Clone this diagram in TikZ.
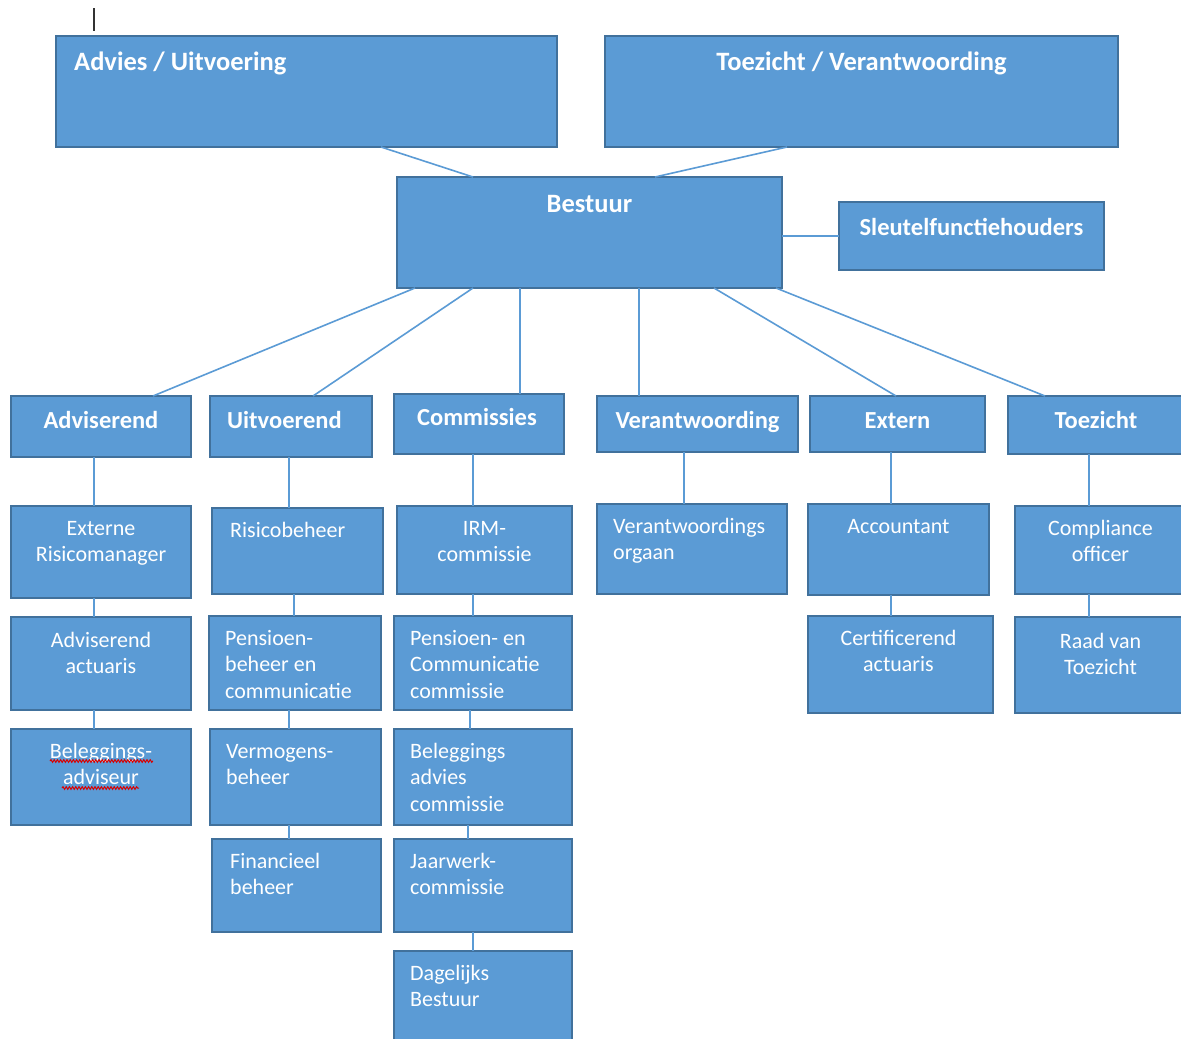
\documentclass[tikz,border=0pt]{standalone}
\usepackage{fontspec}
\setmainfont{Carlito}
\usetikzlibrary{calc,decorations.pathmorphing}
\definecolor{boxfill}{HTML}{5B9BD5}
\definecolor{boxline}{HTML}{41719C}
\definecolor{connblue}{HTML}{5B9BD5}
\definecolor{cursorgray}{HTML}{333333}
\newcommand\mkbox[5]{\node[orgbox, anchor=north west, minimum width={#4pt-#2pt}, minimum height={#5pt-#3pt}] (#1) at (#2,#3) {};}
\tikzset{
  orgbox/.style={draw=boxline, fill=boxfill, line width=1.3pt, inner sep=0pt, outer sep=0pt},
  conn/.style={draw=connblue, line width=1.6pt},
  hdbig/.style={text=white, font=\bfseries\fontsize{26.5pt}{31pt}\selectfont, inner sep=0pt},
  hd/.style={text=white, font=\bfseries\fontsize{24.5pt}{29pt}\selectfont, inner sep=0pt},
  tx/.style={text=white, font=\fontsize{22pt}{26.5pt}\selectfont, inner sep=0pt, align=center},
  txl/.style={tx, align=left},
  squig/.style={draw=red!85!black, line width=1pt, decorate, decoration={snake, amplitude=1.3pt, segment length=3.2pt}},
  cursorline/.style={draw=cursorgray, line width=1.6pt}
}
\begin{document}
\begin{tikzpicture}[x=1pt,y=-1pt]
\useasboundingbox (0,0) rectangle (1181,1039);
\fill[white] (0,0) rectangle (1181,1039);
\draw[cursorline] (94,8) -- (94,31);
% boxes
\mkbox{adv}{56}{36}{557}{147}
\mkbox{toe}{605}{36}{1118}{147}
\mkbox{best}{397}{177}{782}{288}
\mkbox{sleu}{839}{202}{1104}{270}
\mkbox{a2}{11}{396}{191}{457}
\mkbox{u2}{210}{396}{372}{457}
\mkbox{c2}{394}{394}{564}{454}
\mkbox{v2}{597}{396}{798}{452}
\mkbox{e2}{810}{396}{985}{452}
\mkbox{t2}{1008}{396}{1186}{454}
\mkbox{a3}{11}{506}{191}{598}
\mkbox{u3}{212}{508}{383}{594}
\mkbox{c3}{397}{506}{572}{594}
\mkbox{v3}{597}{504}{787}{594}
\mkbox{e3}{808}{504}{989}{595}
\mkbox{t3}{1015}{506}{1186}{594}
\mkbox{a4}{11}{617}{191}{710}
\mkbox{u4}{209}{616}{381}{710}
\mkbox{c4}{394}{616}{572}{710}
\mkbox{e4}{808}{616}{993}{713}
\mkbox{t4}{1015}{617}{1186}{713}
\mkbox{a5}{11}{729}{191}{825}
\mkbox{u5}{210}{729}{381}{825}
\mkbox{c5}{394}{729}{572}{825}
\mkbox{u6}{212}{839}{381}{932}
\mkbox{c6}{394}{839}{572}{932}
\mkbox{c7}{394}{951}{572}{1046}
% connectors
\draw[conn] ([xshift=325pt]adv.south west) -- ([xshift=76pt]best.north west);
\draw[conn] ([xshift=182pt]toe.south west) -- ([xshift=258pt]best.north west);
\draw[conn] (best.east |- sleu.west) -- (sleu.west);
\draw[conn] ([xshift=18pt]best.south west) -- ([xshift=142pt]a2.north west);
\draw[conn] ([xshift=76pt]best.south west) -- ([xshift=103pt]u2.north west);
\draw[conn] ([xshift=123pt]best.south west) -- ([xshift=126pt]c2.north west);
\draw[conn] ([xshift=242pt]best.south west) -- ([xshift=42pt]v2.north west);
\draw[conn] ([xshift=317pt]best.south west) -- ([xshift=86pt]e2.north west);
\draw[conn] ([xshift=379pt]best.south west) -- ([xshift=37pt]t2.north west);
\draw[conn] ([xshift=83pt]a2.south west) -- ([xshift=83pt]a3.north west);
\draw[conn] ([xshift=83pt]a3.south west) -- ([xshift=83pt]a4.north west);
\draw[conn] ([xshift=83pt]a4.south west) -- ([xshift=83pt]a5.north west);
\draw[conn] ([xshift=79pt]u2.south west) -- ([xshift=77pt]u3.north west);
\draw[conn] ([xshift=82pt]u3.south west) -- ([xshift=85pt]u4.north west);
\draw[conn] ([xshift=80pt]u4.south west) -- ([xshift=79pt]u5.north west);
\draw[conn] ([xshift=79pt]u5.south west) -- ([xshift=77pt]u6.north west);
\draw[conn] ([xshift=79pt]c2.south west) -- ([xshift=76pt]c3.north west);
\draw[conn] ([xshift=76pt]c3.south west) -- ([xshift=79pt]c4.north west);
\draw[conn] ([xshift=76pt]c4.south west) -- ([xshift=76pt]c5.north west);
\draw[conn] ([xshift=74pt]c5.south west) -- ([xshift=74pt]c6.north west);
\draw[conn] ([xshift=79pt]c6.south west) -- ([xshift=79pt]c7.north west);
\draw[conn] ([xshift=87pt]v2.south west) -- ([xshift=87pt]v3.north west);
\draw[conn] ([xshift=81pt]e2.south west) -- ([xshift=83pt]e3.north west);
\draw[conn] ([xshift=83pt]e3.south west) -- ([xshift=83pt]e4.north west);
\draw[conn] ([xshift=81pt]t2.south west) -- ([xshift=74pt]t3.north west);
\draw[conn] ([xshift=74pt]t3.south west) -- ([xshift=74pt]t4.north west);
% headings
\node[hdbig, anchor=base west] (tadv) at ([xshift=18pt,yshift=-34.5pt]adv.north west) {Advies / Uitvoering};
\node[hdbig, anchor=base] (ttoe) at ([yshift=-34.5pt]toe.north) {Toezicht / Verantwoording};
\node[hdbig, anchor=base] (tbest) at ([yshift=-35.5pt]best.north) {Bestuur};
\node[hd, anchor=base] (tsleu) at ([yshift=-33pt]sleu.north) {Sleutelfunctiehouders};
\node[hd, anchor=base] (ta2) at ([yshift=-32pt]a2.north) {Adviserend};
\node[hd, anchor=base west] (tu2) at ([xshift=17pt,yshift=-32pt]u2.north west) {Uitvoerend};
\node[hd, anchor=base] (tc2) at ([xshift=-2pt,yshift=-31.5pt]c2.north) {Commissies};
\node[hd, anchor=base] (tv2) at ([yshift=-32pt]v2.north) {Verantwoording};
\node[hd, anchor=base] (te2) at ([yshift=-32pt]e2.north) {Extern};
\node[hd, anchor=base] (tt2) at ([xshift=-1pt,yshift=-32pt]t2.north) {Toezicht};
% texts (base anchor = baseline of last line)
\node[tx, anchor=base] (ta3) at ([yshift=-55.5pt]a3.north) {Externe\\Risicomanager};
\node[txl, anchor=base west] (tu3) at ([xshift=18pt,yshift=-29pt]u3.north west) {Risicobeheer};
\node[tx, anchor=base] (tc3) at ([yshift=-55.5pt]c3.north) {IRM-\\commissie};
\node[txl, anchor=base west] (tv3) at ([xshift=16pt,yshift=-55.5pt]v3.north west) {Verantwoordings\\orgaan};
\node[tx, anchor=base] (te3) at ([yshift=-29pt]e3.north) {Accountant};
\node[tx, anchor=base] (tt3) at ([yshift=-55.5pt]t3.north) {Compliance\\officer};
\node[tx, anchor=base] (ta4) at ([yshift=-56.5pt]a4.north) {Adviserend\\actuaris};
\node[txl, anchor=base west] (tu4) at ([xshift=16pt,yshift=-82pt]u4.north west) {Pensioen-\\beheer en\\communicatie};
\node[txl, anchor=base west] (tc4) at ([xshift=16pt,yshift=-82pt]c4.north west) {Pensioen- en\\Communicatie\\commissie};
\node[tx, anchor=base] (te4) at ([xshift=-2pt,yshift=-55.5pt]e4.north) {Certificerend\\actuaris};
\node[tx, anchor=base] (tt4) at ([yshift=-57.5pt]t4.north) {Raad van\\Toezicht};
\node[tx, anchor=base] (ta5) at ([yshift=-55.5pt]a5.north) {Beleggings-\\adviseur};
\node[txl, anchor=base west] (tu5) at ([xshift=16pt,yshift=-55.5pt]u5.north west) {Vermogens-\\beheer};
\node[txl, anchor=base west] (tc5) at ([xshift=16pt,yshift=-82pt]c5.north west) {Beleggings\\advies\\commissie};
\node[txl, anchor=base west] (tu6) at ([xshift=18pt,yshift=-55.5pt]u6.north west) {Financieel\\beheer};
\node[txl, anchor=base west] (tc6) at ([xshift=16pt,yshift=-55.5pt]c6.north west) {Jaarwerk-\\commissie};
\node[txl, anchor=base west] (tc7) at ([xshift=16pt,yshift=-55.5pt]c7.north west) {Dagelijks\\Bestuur};
% spell-check squiggles
\draw[squig] ([xshift=39pt,yshift=-32pt]a5.north west) -- ([xshift=142pt,yshift=-32pt]a5.north west);
\draw[squig] ([xshift=51pt,yshift=-59pt]a5.north west) -- ([xshift=128pt,yshift=-59pt]a5.north west);
\end{tikzpicture}
\end{document}
